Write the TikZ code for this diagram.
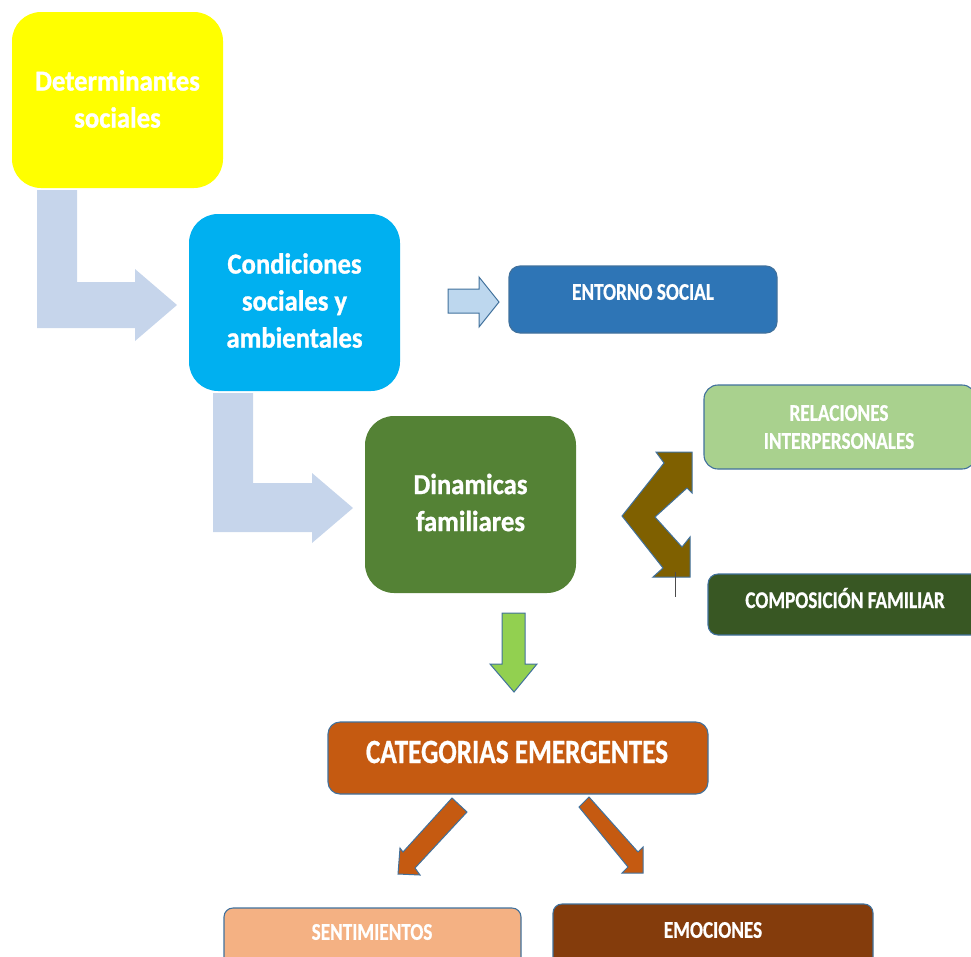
\documentclass[tikz,border=0pt]{standalone}
\usepackage{fontspec}
\setmainfont{Carlito}
\newfontfamily\bigf{Carlito}[FakeStretch=0.92, FakeBold=1]
\newfontfamily\smallf{Carlito}[FakeStretch=0.8, FakeBold=0.6]
\usetikzlibrary{calc}
\definecolor{cYellow}{HTML}{FFFF00}
\definecolor{cCyan}{HTML}{00B0F0}
\definecolor{cBlue}{HTML}{2E75B6}
\definecolor{cGreen}{HTML}{548235}
\definecolor{cLGreen}{HTML}{A9D18E}
\definecolor{cDGreen}{HTML}{385723}
\definecolor{cOrange}{HTML}{C55A11}
\definecolor{cSalmon}{HTML}{F4B183}
\definecolor{cBrown}{HTML}{843C0C}
\definecolor{cOlive}{HTML}{7F6000}
\definecolor{cLime}{HTML}{92D050}
\definecolor{cPale}{HTML}{C6D5EB}
\definecolor{cPaleB}{HTML}{BDD7EE}
\definecolor{cOutl}{HTML}{41719C}
\tikzset{
  box/.style={inner sep=0pt, outer sep=0pt},
  obox/.style={box, draw=cOutl, line width=1.1pt},
  bigtxt/.style={text=white, align=center, inner sep=0pt, font=\bigf\bfseries\fontsize{29}{37}\selectfont},
  smalltxt/.style={text=white, align=center, inner sep=0pt, font=\smallf\bfseries\fontsize{24}{28}\selectfont},
  cattxt/.style={text=white, align=center, inner sep=0pt, font=\smallf\bfseries\fontsize{34}{40}\selectfont},
  lshape/.style={fill=cPale},
  barrow/.style={fill=#1, draw=cOutl, line width=1pt, line join=miter},
}
\begin{document}
\begin{tikzpicture}[x=1pt,y=-1pt]
\useasboundingbox (0,0) rectangle (971,956);
\begin{scope}
\clip (0,0) rectangle (971,956);
% boxes
\node[box, fill=cYellow, minimum width=211, minimum height=176, rounded corners=29] (det) at (117.5,100) {};
\node[box, fill=cCyan, minimum width=211, minimum height=177, rounded corners=29] (cond) at (294.5,302.5) {};
\node[obox, fill=cBlue, minimum width=268, minimum height=67, rounded corners=11] (ent) at (643,299.5) {};
\node[box, fill=cGreen, minimum width=211, minimum height=177, rounded corners=29] (din) at (470.5,504.5) {};
\node[obox, fill=cLGreen, minimum width=272, minimum height=84, rounded corners=14] (rel) at (840,427) {};
\node[obox, fill=cDGreen, minimum width=276, minimum height=61, rounded corners=10] (comp) at (846,604.5) {};
\node[obox, fill=cOrange, minimum width=380, minimum height=72, rounded corners=12] (cat) at (518,758) {};
\node[obox, fill=cSalmon, minimum width=297, minimum height=62, rounded corners=9] (sent) at (372.5,939) {};
\node[obox, fill=cBrown, minimum width=320, minimum height=62, rounded corners=9] (emo) at (713,935) {};
% texts
\node[bigtxt] (detT) at ($(det.center)+(0,-1)$) {Determinantes\\sociales};
\node[bigtxt] (condT) at ($(cond.center)+(0,-2)$) {Condiciones\\sociales y\\ambientales};
\node[bigtxt] (dinT) at ($(din.center)+(0,-2)$) {Dinamicas\\familiares};
\node[smalltxt] (entT) at (643,292) {ENTORNO SOCIAL};
\node[smalltxt] (relT) at (839,427) {RELACIONES\\INTERPERSONALES};
\node[smalltxt] (compT) at (845,598) {COMPOSICIÓN FAMILIAR};
\node[cattxt] (catT) at (517,752) {CATEGORIAS EMERGENTES};
\node[smalltxt] (sentT) at (372,932) {SENTIMIENTOS};
\node[smalltxt] (emoT) at (713,930) {EMOCIONES};
% L-shaped arrows
\fill[lshape] (37,190) -- (77,190) -- (77,282) -- (135,282) -- (135,269) -- (177,305) -- (135,341) -- (135,328) -- (37,328) -- cycle;
\fill[lshape] (213,393) -- (253,393) -- (253,483) -- (312,483) -- (312,473) -- (353,508) -- (312,543) -- (312,532) -- (213,532) -- cycle;
% arrow to entorno
\draw[barrow=cPaleB] (448,289) -- (479,289) -- (479,277) -- (499,302) -- (479,327) -- (479,313) -- (448,313) -- cycle;
% chevron double arrow
\draw[barrow=cOlive] (656,452) -- (692,452) -- (692,493) -- (687,488) -- (655,517) -- (682,547) -- (690,537) -- (690,577) -- (653,577) -- (663,568) -- (622,516) -- (664,463) -- cycle;
\draw[line width=1pt, black!70] (675,572) -- (675,597);
% green arrow down
\draw[barrow=cLime] (502,613) -- (525,613) -- (525,664) -- (537,664) -- (514,692) -- (490,664) -- (502,664) -- cycle;
% diagonal arrows
\draw[barrow=cOrange] (452,798) -- (467,812) -- (415,868) -- (420,875) -- (398,874) -- (400,848) -- (403,852) -- cycle;
\draw[barrow=cOrange] (589,797) -- (638,852) -- (643,847) -- (643,873) -- (622,873) -- (628,867) -- (579,807) -- cycle;
\end{scope}
\end{tikzpicture}
\end{document}
